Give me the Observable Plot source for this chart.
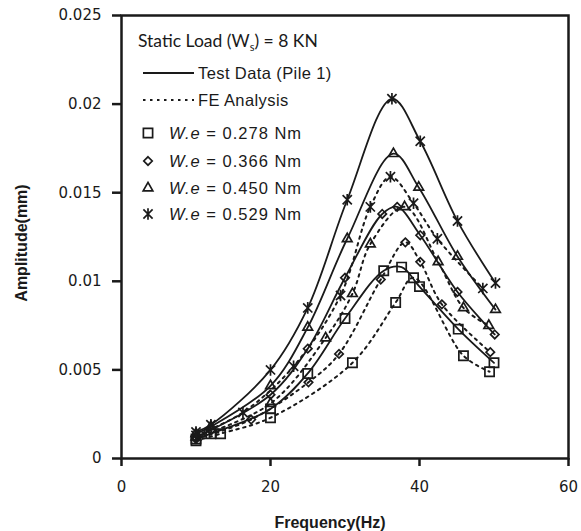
<!DOCTYPE html>
<html><head><meta charset="utf-8">
<script src="https://cdn.jsdelivr.net/npm/d3@7"></script>
<script src="https://cdn.jsdelivr.net/npm/@observablehq/plot@0.6"></script>
<style>body{margin:0;background:#fff} #chart{width:581px;height:531px}</style>
</head><body><div id="chart"></div>
<script>
// ---- tick labels / categories ----
const xTicks = [0, 20, 40, 60];
const yTicks = [0, 0.005, 0.01, 0.015, 0.02, 0.025];
const loads = ["0.278", "0.366", "0.450", "0.529"];

// ---- Test Data (Pile 1) ----
const testFreq278 = [10, 12, 20, 25, 30, 35.2, 37.6, 40, 45.2, 50];
const testAmp278  = [0.0011, 0.0014, 0.0028, 0.0048, 0.0079, 0.0106, 0.0108, 0.0097, 0.0073, 0.0054];
const testFreq366 = [10, 12, 20, 25, 30, 35, 37, 40.1, 45.1, 50.1];
const testAmp366  = [0.0012, 0.0016, 0.0036, 0.0062, 0.0102, 0.0138, 0.0142, 0.0126, 0.0094, 0.0070];
const testFreq450 = [10, 12, 20, 25, 30.3, 36.5, 39.9, 45.1, 50.2];
const testAmp450  = [0.0014, 0.0018, 0.0041, 0.0074, 0.0124, 0.0172, 0.0153, 0.0114, 0.0084];
const testFreq529 = [10, 12, 20, 25, 30.3, 36.3, 40.1, 45.1, 50.2];
const testAmp529  = [0.0015, 0.0019, 0.0050, 0.0085, 0.0146, 0.0203, 0.0179, 0.0134, 0.0099];

// ---- FE Analysis ----
const feFreq278 = [10, 13.3, 20, 31, 36.8, 39.2, 45.9, 49.4];
const feAmp278  = [0.0010, 0.0014, 0.0023, 0.0054, 0.0088, 0.0102, 0.0058, 0.0049];
const feFreq366 = [10, 17.4, 25.1, 29.2, 34.8, 38.1, 40.1, 43, 49.5];
const feAmp366  = [0.0011, 0.0022, 0.0043, 0.0059, 0.0101, 0.0122, 0.0111, 0.0087, 0.0060];
const feFreq450 = [10, 20, 27.4, 31, 33.4, 38, 42.5, 45.9, 49.3];
const feAmp450  = [0.0012, 0.0031, 0.0068, 0.0093, 0.0121, 0.0142, 0.0111, 0.0085, 0.0075];
const feFreq529 = [10, 16.3, 23.1, 29.4, 33.4, 36.1, 39.2, 42.4, 48.5];
const feAmp529  = [0.0013, 0.0026, 0.0052, 0.0092, 0.0142, 0.0159, 0.0144, 0.0124, 0.0096];

// ---- tables built from the arrays ----
const testSets = {"0.278": [testFreq278, testAmp278], "0.366": [testFreq366, testAmp366], "0.450": [testFreq450, testAmp450], "0.529": [testFreq529, testAmp529]};
const feSets = {"0.278": [feFreq278, feAmp278], "0.366": [feFreq366, feAmp366], "0.450": [feFreq450, feAmp450], "0.529": [feFreq529, feAmp529]};
const toRows = (sets) => loads.flatMap(we => sets[we][0].map((f, i) => ({we, f, a: sets[we][1][i]})));
const test = toRows(testSets);
const fe = toRows(feSets);
const all = test.concat(fe);

// star marker: X plus vertical stroke (spreadsheet "star")
const starSymbol = {
  draw(context, size) {
    const r = Math.sqrt(size) * 0.56;
    const d = r * 0.8;
    context.moveTo(-d, -d); context.lineTo(d, d);
    context.moveTo(d, -d); context.lineTo(-d, d);
    context.moveTo(0, -r); context.lineTo(0, r);
  }
};
const symbolOf = {"0.278": d3.symbolSquare, "0.366": d3.symbolDiamond2, "0.450": d3.symbolTriangle2, "0.529": starSymbol};
const rOf = {"0.278": 5.2, "0.366": 3.8, "0.450": 4.6, "0.529": 5.8};
const ink = "#1a1a1a";

const plot = Plot.plot({
  width: 581, height: 531,
  marginLeft: 121, marginRight: 13, marginTop: 15, marginBottom: 73,
  x: {domain: [0, 60]},
  y: {domain: [0, 0.025]},
  style: {fontFamily: "DejaVu Sans", fontSize: "15px", color: ink, background: "white", overflow: "visible"},
  marks: [
    Plot.axisX({ticks: xTicks, tickSize: 8, tickPadding: 15, strokeWidth: 2.5, label: null}),
    Plot.axisY({ticks: yTicks, tickSize: 9, tickPadding: 11, strokeWidth: 2.5, label: null,
                tickFormat: d => d === 0 ? "0" : String(d)}),
    Plot.frame({stroke: ink, strokeWidth: 2.5}),
    Plot.line(test, {x: "f", y: "a", z: "we", curve: "catmull-rom", stroke: ink, strokeWidth: 1.8}),
    Plot.line(fe, {x: "f", y: "a", z: "we", curve: "catmull-rom", stroke: ink, strokeWidth: 2, strokeDasharray: "2.5,4.5"}),
    ...loads.map(we => Plot.dot(all.filter(d => d.we === we), {x: "f", y: "a", symbol: symbolOf[we], r: rOf[we], stroke: ink, strokeWidth: 1.7, fill: "none"}))
  ]
});
document.getElementById("chart").appendChild(plot);

// ---- axis titles and legend (layout in pixels) ----
const svg = d3.select(plot);
svg.append("text").attr("transform", "translate(27,243) rotate(-90)").attr("text-anchor", "middle")
  .attr("font-family", "Liberation Sans, Arial").attr("font-weight", "bold").attr("font-size", 16).attr("fill", ink)
  .text("Amplitude(mm)");
svg.append("text").attr("x", 330).attr("y", 528).attr("text-anchor", "middle")
  .attr("font-family", "Liberation Sans, Arial").attr("font-weight", "bold").attr("font-size", 16).attr("fill", ink)
  .text("Frequency(Hz)");

const lg = svg.append("g").attr("fill", ink).attr("text-anchor", "start").attr("font-family", "Liberation Sans, Arial");
const st = lg.append("text").attr("x", 138).attr("y", 47).attr("font-family", "Lato").attr("font-size", 17.5);
st.append("tspan").text("Static Load (W");
st.append("tspan").attr("font-size", 11).attr("dy", 4).text("s");
st.append("tspan").attr("dy", -4).text(") = 8 KN");

lg.append("line").attr("x1", 143).attr("x2", 194).attr("y1", 73).attr("y2", 73).attr("stroke", ink).attr("stroke-width", 1.8);
lg.append("text").attr("x", 198).attr("y", 73).attr("dy", "0.35em").attr("font-size", 16.5).attr("letter-spacing", 0.4).text("Test Data (Pile 1)");
lg.append("line").attr("x1", 143).attr("x2", 194).attr("y1", 100).attr("y2", 100).attr("stroke", ink).attr("stroke-width", 2).attr("stroke-dasharray", "2.5,4.5");
lg.append("text").attr("x", 198).attr("y", 100).attr("dy", "0.35em").attr("font-size", 16.5).attr("letter-spacing", 0.4).text("FE Analysis");

const rowsY = [133, 161, 188, 214];
loads.forEach((we, i) => {
  const y = rowsY[i];
  lg.append("path").attr("transform", `translate(148,${y})`)
    .attr("d", d3.symbol(symbolOf[we], Math.PI * rOf[we] * rOf[we])())
    .attr("fill", "none").attr("stroke", ink).attr("stroke-width", 1.7);
  const t = lg.append("text").attr("x", 169).attr("y", y).attr("dy", "0.35em").attr("font-size", 16.5).attr("letter-spacing", 1);
  t.append("tspan").attr("font-style", "italic").text("W.e");
  t.append("tspan").text(` = ${we} Nm`);
});
</script>
</body></html>
